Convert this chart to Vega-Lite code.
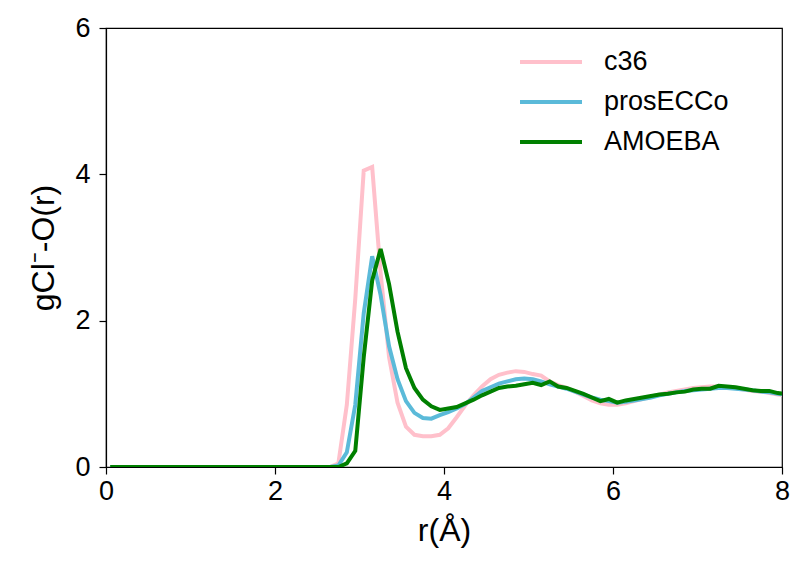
{
  "$schema": "https://vega.github.io/schema/vega-lite/v6.json",
  "width": 676,
  "height": 439,
  "autosize": {"type": "none"},
  "padding": {"left": 106, "top": 28, "right": 10, "bottom": 100},
  "background": "white",
  "config": {
    "font": "Liberation Sans",
    "view": {"stroke": "black", "strokeWidth": 1.2},
    "axis": {"grid": false, "domainColor": "black", "domainWidth": 1.2, "tickColor": "black", "tickWidth": 1.2, "labelColor": "black", "titleColor": "black", "labelFontSize": 27, "titleFontSize": 32, "titleFontWeight": "normal", "tickSize": 7, "labelFlush": false}
  },
  "data": {
    "values": [
      {"r": 0.05, "c36": 0, "prosECCo": 0, "AMOEBA": 0},
      {"r": 0.15, "c36": 0, "prosECCo": 0, "AMOEBA": 0},
      {"r": 0.25, "c36": 0, "prosECCo": 0, "AMOEBA": 0},
      {"r": 0.35, "c36": 0, "prosECCo": 0, "AMOEBA": 0},
      {"r": 0.45, "c36": 0, "prosECCo": 0, "AMOEBA": 0},
      {"r": 0.55, "c36": 0, "prosECCo": 0, "AMOEBA": 0},
      {"r": 0.65, "c36": 0, "prosECCo": 0, "AMOEBA": 0},
      {"r": 0.75, "c36": 0, "prosECCo": 0, "AMOEBA": 0},
      {"r": 0.85, "c36": 0, "prosECCo": 0, "AMOEBA": 0},
      {"r": 0.95, "c36": 0, "prosECCo": 0, "AMOEBA": 0},
      {"r": 1.05, "c36": 0, "prosECCo": 0, "AMOEBA": 0},
      {"r": 1.15, "c36": 0, "prosECCo": 0, "AMOEBA": 0},
      {"r": 1.25, "c36": 0, "prosECCo": 0, "AMOEBA": 0},
      {"r": 1.35, "c36": 0, "prosECCo": 0, "AMOEBA": 0},
      {"r": 1.45, "c36": 0, "prosECCo": 0, "AMOEBA": 0},
      {"r": 1.55, "c36": 0, "prosECCo": 0, "AMOEBA": 0},
      {"r": 1.65, "c36": 0, "prosECCo": 0, "AMOEBA": 0},
      {"r": 1.75, "c36": 0, "prosECCo": 0, "AMOEBA": 0},
      {"r": 1.85, "c36": 0, "prosECCo": 0, "AMOEBA": 0},
      {"r": 1.95, "c36": 0, "prosECCo": 0, "AMOEBA": 0},
      {"r": 2.05, "c36": 0, "prosECCo": 0, "AMOEBA": 0},
      {"r": 2.15, "c36": 0, "prosECCo": 0, "AMOEBA": 0},
      {"r": 2.25, "c36": 0, "prosECCo": 0, "AMOEBA": 0},
      {"r": 2.35, "c36": 0, "prosECCo": 0, "AMOEBA": 0},
      {"r": 2.45, "c36": 0, "prosECCo": 0, "AMOEBA": 0},
      {"r": 2.55, "c36": 0, "prosECCo": 0, "AMOEBA": 0},
      {"r": 2.65, "c36": 0, "prosECCo": 0, "AMOEBA": 0},
      {"r": 2.75, "c36": 0.05, "prosECCo": 0.02, "AMOEBA": 0.0},
      {"r": 2.85, "c36": 0.85, "prosECCo": 0.2, "AMOEBA": 0.05},
      {"r": 2.95, "c36": 2.3, "prosECCo": 0.85, "AMOEBA": 0.22},
      {"r": 3.05, "c36": 4.05, "prosECCo": 2.1, "AMOEBA": 1.5},
      {"r": 3.15, "c36": 4.1, "prosECCo": 2.88, "AMOEBA": 2.55},
      {"r": 3.25, "c36": 2.65, "prosECCo": 2.35, "AMOEBA": 2.98},
      {"r": 3.35, "c36": 1.5, "prosECCo": 1.65, "AMOEBA": 2.5},
      {"r": 3.45, "c36": 0.88, "prosECCo": 1.2, "AMOEBA": 1.85},
      {"r": 3.55, "c36": 0.55, "prosECCo": 0.9, "AMOEBA": 1.35},
      {"r": 3.65, "c36": 0.44, "prosECCo": 0.74, "AMOEBA": 1.08},
      {"r": 3.75, "c36": 0.42, "prosECCo": 0.67, "AMOEBA": 0.92},
      {"r": 3.85, "c36": 0.42, "prosECCo": 0.66, "AMOEBA": 0.83},
      {"r": 3.95, "c36": 0.44, "prosECCo": 0.71, "AMOEBA": 0.78},
      {"r": 4.05, "c36": 0.53, "prosECCo": 0.75, "AMOEBA": 0.8},
      {"r": 4.15, "c36": 0.68, "prosECCo": 0.8, "AMOEBA": 0.82},
      {"r": 4.25, "c36": 0.84, "prosECCo": 0.86, "AMOEBA": 0.87},
      {"r": 4.35, "c36": 0.98, "prosECCo": 0.95, "AMOEBA": 0.92},
      {"r": 4.45, "c36": 1.1, "prosECCo": 1.04, "AMOEBA": 0.98},
      {"r": 4.55, "c36": 1.2, "prosECCo": 1.09, "AMOEBA": 1.03},
      {"r": 4.65, "c36": 1.26, "prosECCo": 1.14, "AMOEBA": 1.08},
      {"r": 4.75, "c36": 1.29, "prosECCo": 1.17, "AMOEBA": 1.1},
      {"r": 4.85, "c36": 1.31, "prosECCo": 1.2, "AMOEBA": 1.11},
      {"r": 4.95, "c36": 1.3, "prosECCo": 1.21, "AMOEBA": 1.13},
      {"r": 5.05, "c36": 1.27, "prosECCo": 1.2, "AMOEBA": 1.15},
      {"r": 5.15, "c36": 1.25, "prosECCo": 1.17, "AMOEBA": 1.12},
      {"r": 5.25, "c36": 1.17, "prosECCo": 1.13, "AMOEBA": 1.17},
      {"r": 5.35, "c36": 1.12, "prosECCo": 1.1, "AMOEBA": 1.1},
      {"r": 5.45, "c36": 1.08, "prosECCo": 1.07, "AMOEBA": 1.08},
      {"r": 5.55, "c36": 1.03, "prosECCo": 1.03, "AMOEBA": 1.04},
      {"r": 5.65, "c36": 0.97, "prosECCo": 0.99, "AMOEBA": 1.0},
      {"r": 5.75, "c36": 0.91, "prosECCo": 0.95, "AMOEBA": 0.95},
      {"r": 5.85, "c36": 0.87, "prosECCo": 0.92, "AMOEBA": 0.9},
      {"r": 5.95, "c36": 0.85, "prosECCo": 0.9, "AMOEBA": 0.93},
      {"r": 6.05, "c36": 0.85, "prosECCo": 0.88, "AMOEBA": 0.88},
      {"r": 6.15, "c36": 0.87, "prosECCo": 0.89, "AMOEBA": 0.91},
      {"r": 6.25, "c36": 0.9, "prosECCo": 0.91, "AMOEBA": 0.93},
      {"r": 6.35, "c36": 0.93, "prosECCo": 0.93, "AMOEBA": 0.95},
      {"r": 6.45, "c36": 0.96, "prosECCo": 0.95, "AMOEBA": 0.97},
      {"r": 6.55, "c36": 0.99, "prosECCo": 0.98, "AMOEBA": 0.99},
      {"r": 6.65, "c36": 1.02, "prosECCo": 1.0, "AMOEBA": 1.0},
      {"r": 6.75, "c36": 1.04, "prosECCo": 1.02, "AMOEBA": 1.02},
      {"r": 6.85, "c36": 1.06, "prosECCo": 1.04, "AMOEBA": 1.03},
      {"r": 6.95, "c36": 1.08, "prosECCo": 1.05, "AMOEBA": 1.06},
      {"r": 7.05, "c36": 1.09, "prosECCo": 1.06, "AMOEBA": 1.07},
      {"r": 7.15, "c36": 1.1, "prosECCo": 1.07, "AMOEBA": 1.07},
      {"r": 7.25, "c36": 1.1, "prosECCo": 1.08, "AMOEBA": 1.11},
      {"r": 7.35, "c36": 1.09, "prosECCo": 1.08, "AMOEBA": 1.1},
      {"r": 7.45, "c36": 1.08, "prosECCo": 1.07, "AMOEBA": 1.09},
      {"r": 7.55, "c36": 1.06, "prosECCo": 1.06, "AMOEBA": 1.07},
      {"r": 7.65, "c36": 1.04, "prosECCo": 1.05, "AMOEBA": 1.05},
      {"r": 7.75, "c36": 1.03, "prosECCo": 1.03, "AMOEBA": 1.04},
      {"r": 7.85, "c36": 1.01, "prosECCo": 1.02, "AMOEBA": 1.04},
      {"r": 7.95, "c36": 0.99, "prosECCo": 1.0, "AMOEBA": 1.01},
      {"r": 8.05, "c36": 0.98, "prosECCo": 0.99, "AMOEBA": 1.0}
    ]
  },
  "transform": [{"fold": ["c36", "prosECCo", "AMOEBA"], "as": ["series", "g"]}],
  "mark": {"type": "line", "strokeWidth": 4, "clip": true},
  "encoding": {
    "x": {"field": "r", "type": "quantitative", "scale": {"domain": [0, 8], "nice": false, "zero": false}, "axis": {"values": [0, 2, 4, 6, 8], "title": "r(Å)", "titlePadding": 11, "labelPadding": 4}},
    "y": {"field": "g", "type": "quantitative", "scale": {"domain": [0, 6], "nice": false}, "axis": {"values": [0, 2, 4, 6], "title": "gCl⁻-O(r)", "titlePadding": 14, "labelPadding": 9}},
    "color": {
      "field": "series", "type": "nominal",
      "scale": {"domain": ["c36", "prosECCo", "AMOEBA"], "range": ["#FFC0CB", "#5BBAD9", "#008000"]},
      "legend": {"title": null, "orient": "none", "legendX": 412, "legendY": 14, "symbolType": "stroke", "symbolSize": 3844, "symbolStrokeWidth": 4, "labelFontSize": 27, "labelColor": "black", "rowPadding": 0, "clipHeight": 40, "labelOffset": 20, "symbolOpacity": 1}
    }
  }
}
